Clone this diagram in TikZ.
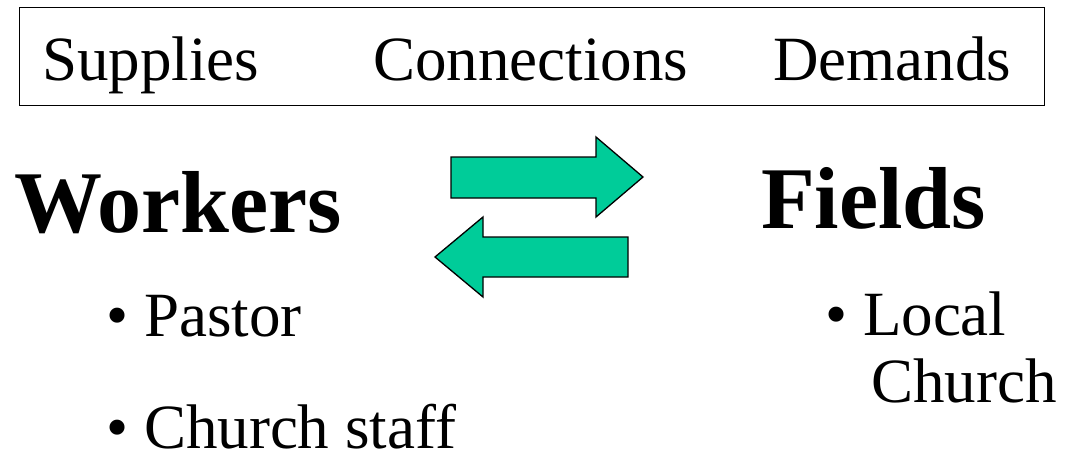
\documentclass[tikz,border=0pt]{standalone}
\usepackage{fontspec}
\setmainfont{Liberation Serif}
\definecolor{arrowgreen}{HTML}{00CC99}
\begin{document}
\begin{tikzpicture}[x=1pt,y=-1pt,
  txt/.style={inner sep=0pt, anchor=base west, font=\fontsize{63}{70}\selectfont},
  big/.style={inner sep=0pt, anchor=base west, font=\fontsize{88}{96}\selectfont\bfseries},
  bigarrow/.style={fill=arrowgreen, draw=black, line width=1.3pt, line join=miter}]
\useasboundingbox (0,0) rectangle (1066,456);
\node[draw=black, line width=1.2pt, minimum width=1025pt, minimum height=98pt, inner sep=0pt, anchor=north west] (box) at (19,7) {};
\node[txt] (sup) at (42,80) {Supplies};
\node[txt] (con) at (373,80) {Connections};
\node[txt] (dem) at (773,80) {Demands};
\node[big] (wor) at (14,232) {Workers};
\node[big] (fie) at (761,228) {Fields};
\node[txt] (pas) at (106,336) {• Pastor};
\node[txt] (sta) at (106,448) {• Church staff};
\node[txt] (loc) at (825,335) {• Local};
\node[txt] (chu) at (871,402) {Church};
\draw[bigarrow] (451,157) -- (596,157) -- (596,137) -- (643,177) -- (596,217) -- (596,198) -- (451,198) -- cycle;
\draw[bigarrow] (628,237) -- (483,237) -- (483,217) -- (435,257) -- (483,297) -- (483,277) -- (628,277) -- cycle;
\end{tikzpicture}
\end{document}
